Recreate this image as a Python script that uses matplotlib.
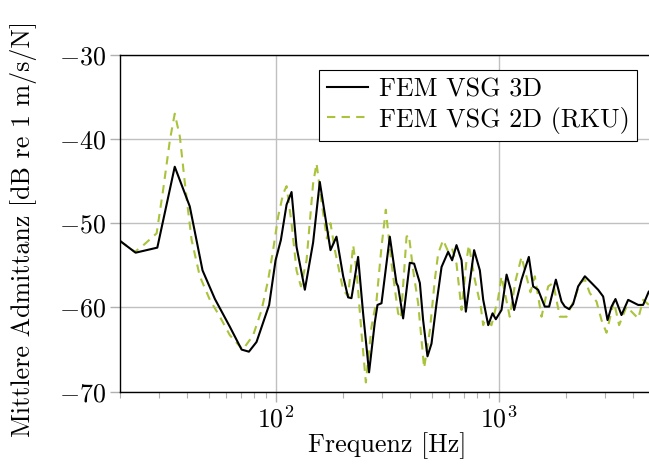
import matplotlib
matplotlib.use("Agg")
import matplotlib.pyplot as plt
from matplotlib.ticker import LogLocator, NullFormatter, FixedLocator

plt.rcParams['font.family'] = 'serif'
plt.rcParams['font.serif'] = ['cmr10']
plt.rcParams['mathtext.fontset'] = 'cm'
plt.rcParams['axes.formatter.use_mathtext'] = True
plt.rcParams['axes.unicode_minus'] = True

f_3d = [20, 23.5, 29.4, 35.2, 41.1, 46.9, 53.3, 62.2, 70.2, 75.7, 81.9, 93.3, 99.7,
        105.3, 111.7, 117.6, 123.8, 134.9, 146.9, 157.4, 175.8, 187, 200.4, 210.9,
        218.3, 233.8, 246.2, 261.8, 277.7, 285.6, 297.7, 324.4, 347.5, 353.4, 372.2,
        398.6, 416.9, 442.4, 457.5, 478.6, 498.8, 525.6, 553.4, 592.4, 617.4, 645.7,
        680.4, 711.2, 774.6, 822, 851, 896, 937, 969.4, 1028, 1083, 1132, 1171, 1264,
        1363, 1425, 1500, 1607, 1681, 1802, 1910, 1977, 2066, 2153, 2268, 2431, 2605,
        2788, 2936, 3072, 3201, 3335, 3548, 3801, 4214, 4437, 4706, 5000]
y_3d = [-52.1, -53.5, -52.9, -43.3, -48.0, -55.6, -59.0, -62.3, -65.0, -65.25, -64.1,
        -59.7, -54.4, -52.0, -47.8, -46.3, -52.8, -57.9, -52.3, -45.1, -53.2, -51.6,
        -56.3, -58.8, -58.9, -54.0, -60.7, -67.7, -61.8, -59.7, -59.5, -51.6, -57.1,
        -57.5, -61.3, -54.7, -54.8, -57.1, -61.5, -65.8, -64.3, -59.5, -55.2, -53.4,
        -54.4, -52.6, -54.4, -60.5, -53.2, -55.6, -59.1, -62.1, -60.7, -61.4, -60.3,
        -56.1, -57.9, -60.3, -56.7, -54.0, -57.5, -57.9, -59.9, -59.9, -56.7, -59.3,
        -59.9, -60.2, -59.6, -57.5, -56.3, -57.1, -57.9, -58.7, -61.5, -59.9, -59.0,
        -60.9, -59.1, -59.7, -59.7, -58.1, -58.1]

f_2d = [20, 23.3, 25.0, 29.2, 31.2, 33.5, 35.2, 37.1, 39.1, 41.9, 45.6, 50.6, 56.1,
        62.2, 71.1, 79.1, 86.3, 92.4, 97.2, 102.4, 107.8, 111.7, 117.6, 123.8, 129.5,
        137.3, 146.9, 152.2, 160.3, 169.3, 175.8, 183.9, 200.4, 210.9, 222.2, 230,
        242.3, 253.3, 268.5, 282.9, 297.7, 311.2, 330.2, 353.4, 363.5, 385.5, 394.9,
        412.8, 434.6, 462.3, 490.6, 516.4, 534.5, 562.6, 588.6, 613.5, 645.7, 680.4,
        716.3, 733.7, 780.3, 829.7, 851, 865, 927, 993, 1028, 1119, 1191, 1264, 1330,
        1386, 1450, 1554, 1664, 1752, 1877, 2012, 2193, 2307, 2431, 2559, 2742, 2887,
        3040, 3280, 3462, 3738, 4218, 4440, 4710, 5000]
y_2d = [-52.1, -53.4, -52.8, -51.2, -46.1, -40.1, -37.0, -39.7, -45.3, -52.0, -56.3,
        -59.1, -61.1, -63.3, -65.0, -63.3, -60.3, -56.7, -53.2, -49.2, -46.5, -45.6,
        -50.0, -55.6, -57.5, -54.4, -45.3, -42.9, -47.5, -51.8, -50.0, -53.2, -57.9,
        -58.7, -52.6, -55.6, -63.1, -68.9, -62.3, -59.1, -52.8, -48.4, -54.8, -60.7,
        -61.3, -51.6, -51.4, -55.6, -59.5, -67.2, -62.7, -56.7, -53.6, -52.0, -53.2,
        -52.8, -54.8, -60.3, -54.4, -52.6, -56.7, -59.9, -62.1, -61.5, -62.1, -58.9,
        -56.3, -61.1, -56.7, -54.0, -56.3, -58.2, -56.3, -61.1, -57.5, -57.1, -61.1,
        -61.1, -58.9, -57.1, -56.7, -58.3, -59.3, -61.5, -63.0, -59.3, -62.1, -59.9,
        -61.3, -59.1, -59.7, -59.5]

label_3d = "FEM VSG 3D"
label_2d = "FEM VSG 2D (RKU)"
y_ticks = [-70, -60, -50, -40, -30]

fig = plt.figure(figsize=(6.49, 4.66), dpi=100)
ax = fig.add_axes([120/649, 1-391.7/466, (654.7-120)/649, (391.7-54.7)/466])

ax.plot(f_3d, y_3d, color='black', lw=1.5, label=label_3d, zorder=3)
ax.plot(f_2d, y_2d, color='#a9c43c', lw=1.5, ls=(0, (4, 3)), label=label_2d, zorder=2)

ax.set_xscale('log')
ax.set_xlim(20, 5000)
ax.set_ylim(-70, -30)
ax.set_yticks(y_ticks)
ax.xaxis.set_major_locator(FixedLocator([100, 1000]))
ax.xaxis.set_minor_locator(LogLocator(base=10, subs=range(2, 10), numticks=20))
ax.xaxis.set_minor_formatter(NullFormatter())

ax.grid(True, which='major', color='#c0c0c0', lw=1.0)
ax.set_axisbelow(True)
ax.tick_params(axis='both', which='major', direction='out', length=7, width=1.0,
               color='#b0b0b0', labelsize=18.7, pad=3)
ax.tick_params(axis='x', which='minor', direction='out', length=4, width=0.8,
               color='#b0b0b0')
for s in ['left', 'top', 'bottom']:
    ax.spines[s].set_color('black')
    ax.spines[s].set_linewidth(1.0)
ax.spines['right'].set_visible(False)

ax.set_xlabel('Frequenz [Hz]', fontsize=18.7, labelpad=0)
ax.set_ylabel('Mittlere Admittanz [dB re 1 m/s/N]', fontsize=18.7)
ax.yaxis.set_label_coords(-0.155, 0.483)

leg = ax.legend(loc='upper right', bbox_to_anchor=(0.967, 0.955), fontsize=18.7,
                frameon=True, fancybox=False, edgecolor='black', framealpha=1,
                handlelength=1.6, handletextpad=0.4, borderpad=0.3,
                labelspacing=0.2, borderaxespad=0)
leg.get_frame().set_linewidth(0.8)

fig.savefig('out.png', dpi=100)
